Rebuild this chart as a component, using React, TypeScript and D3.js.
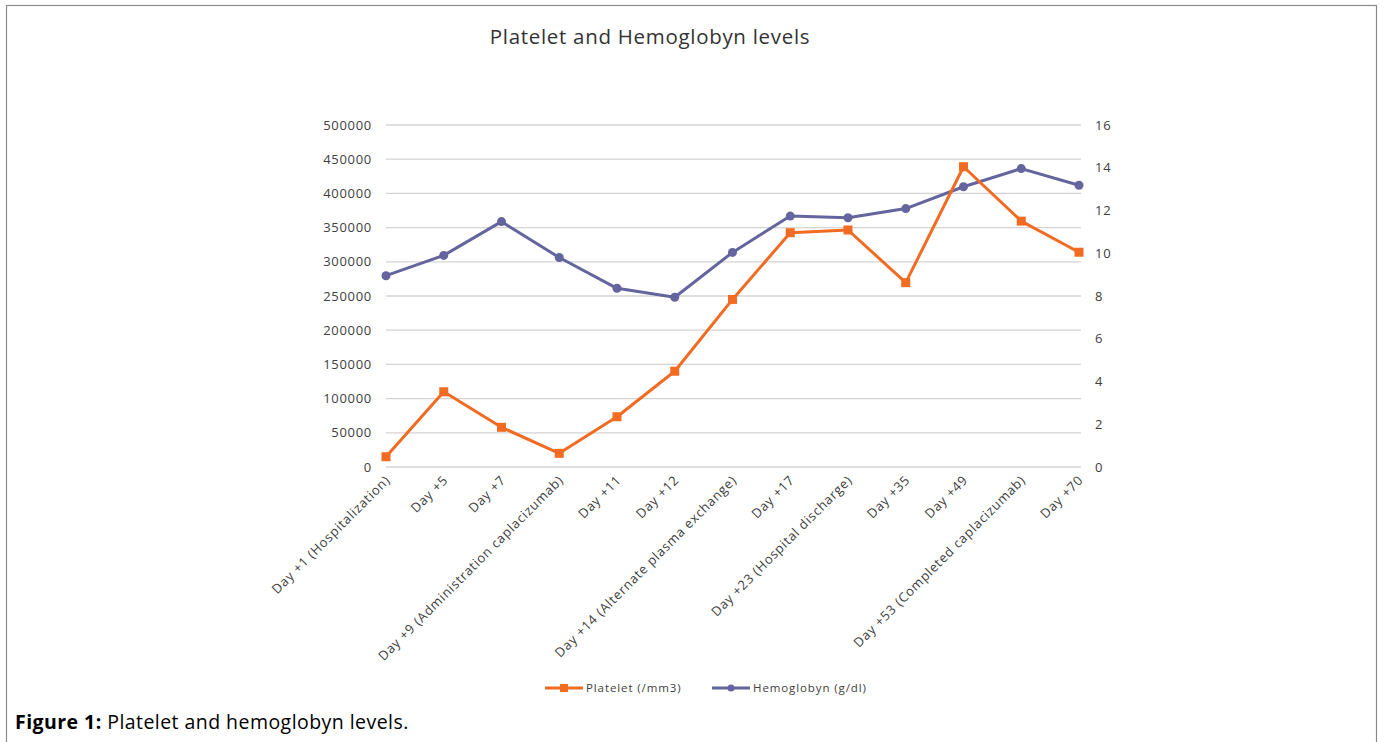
import React, { useRef, useEffect } from 'react';
import * as d3 from 'd3';

const categories = [
  'Day +1 (Hospitalization)',
  'Day +5',
  'Day +7',
  'Day +9 (Administration caplacizumab)',
  'Day +11',
  'Day +12',
  'Day +14 (Alternate plasma exchange)',
  'Day +17',
  'Day +23 (Hospital discharge)',
  'Day +35',
  'Day +49',
  'Day +53 (Completed caplacizumab)',
  'Day +70',
];
const platelet = [15000, 110000, 58000, 20000, 73500, 140000, 245000, 342500, 346500, 269500, 439000, 359500, 314000];
const hemoglobin = [8.95, 9.9, 11.48, 9.8, 8.36, 7.94, 10.04, 11.74, 11.66, 12.09, 13.11, 13.96, 13.18];
const leftTicks = [0, 50000, 100000, 150000, 200000, 250000, 300000, 350000, 400000, 450000, 500000];
const rightTicks = [0, 2, 4, 6, 8, 10, 12, 14, 16];

const ORANGE = '#F26B22';
const PURPLE = '#64649E';
const FONT = '"Open Sans", sans-serif';

function Chart() {
  const chartRef = useRef(null);

  useEffect(() => {
    const svg = d3.select(chartRef.current);
    svg.selectAll('*').remove();

    const x = d3.scalePoint().domain(categories).range([386, 1079]).padding(0);
    const yLeft = d3.scaleLinear().domain([0, 500000]).range([467, 125]);
    const yRight = d3.scaleLinear().domain([0, 16]).range([467, 125]);

    // frame
    svg.append('rect')
      .attr('x', 6.5).attr('y', 5.5).attr('width', 1370).attr('height', 760)
      .attr('fill', 'white').attr('stroke', '#8a8a8a').attr('stroke-width', 1.2);

    // title
    svg.append('text')
      .attr('x', 650).attr('y', 44).attr('text-anchor', 'middle')
      .attr('font-family', FONT).attr('font-size', 20.5).attr('letter-spacing', 0.7).attr('fill', '#333')
      .text('Platelet and Hemoglobyn levels');

    // gridlines
    svg.append('g')
      .selectAll('line').data(leftTicks).enter().append('line')
      .attr('x1', 386).attr('x2', 1081)
      .attr('y1', (d) => yLeft(d)).attr('y2', (d) => yLeft(d))
      .attr('stroke', '#d4d4d4').attr('stroke-width', 1.3);

    // left axis
    const leftAxis = svg.append('g')
      .attr('transform', 'translate(386,0)')
      .call(d3.axisLeft(yLeft).tickValues(leftTicks).tickSize(0).tickPadding(14).tickFormat(d3.format('d')));
    leftAxis.select('.domain').remove();
    leftAxis.selectAll('text').attr('font-family', FONT).attr('font-size', 13).attr('letter-spacing', 0.7).attr('fill', '#404040');

    // right axis
    const rightAxis = svg.append('g')
      .attr('transform', 'translate(1081,0)')
      .call(d3.axisRight(yRight).tickValues(rightTicks).tickSize(0).tickPadding(14));
    rightAxis.select('.domain').remove();
    rightAxis.selectAll('text').attr('font-family', FONT).attr('font-size', 13).attr('letter-spacing', 0.7).attr('fill', '#404040');

    // x labels
    svg.append('g').selectAll('text').data(categories).enter().append('text')
      .attr('transform', (d) => `translate(${x(d) + 5},${481}) rotate(-45)`)
      .attr('text-anchor', 'end')
      .attr('font-family', FONT).attr('font-size', 13).attr('letter-spacing', 0.75)
      .attr('fill', '#404040')
      .text((d) => d);

    // lines
    const hbLine = d3.line().x((d, i) => x(categories[i])).y((d) => yRight(d));
    const plLine = d3.line().x((d, i) => x(categories[i])).y((d) => yLeft(d));

    svg.append('path').datum(hemoglobin).attr('d', hbLine)
      .attr('fill', 'none').attr('stroke', PURPLE).attr('stroke-width', 3).attr('stroke-linejoin', 'round');
    svg.append('g').selectAll('circle').data(hemoglobin).enter().append('circle')
      .attr('cx', (d, i) => x(categories[i])).attr('cy', (d) => yRight(d)).attr('r', 4.5)
      .attr('fill', PURPLE);

    svg.append('path').datum(platelet).attr('d', plLine)
      .attr('fill', 'none').attr('stroke', ORANGE).attr('stroke-width', 3).attr('stroke-linejoin', 'round');
    svg.append('g').selectAll('rect').data(platelet).enter().append('rect')
      .attr('x', (d, i) => x(categories[i]) - 4.5).attr('y', (d) => yLeft(d) - 4.5)
      .attr('width', 9).attr('height', 9).attr('fill', ORANGE);

    // legend
    const legend = [
      { label: 'Platelet (/mm3)', color: ORANGE, shape: 'square', x: 545 },
      { label: 'Hemoglobyn (g/dl)', color: PURPLE, shape: 'circle', x: 712 },
    ];
    const lg = svg.append('g');
    legend.forEach((l) => {
      lg.append('line').attr('x1', l.x).attr('x2', l.x + 38).attr('y1', 688).attr('y2', 688)
        .attr('stroke', l.color).attr('stroke-width', 3);
      if (l.shape === 'square') {
        lg.append('rect').attr('x', l.x + 15).attr('y', 684).attr('width', 8).attr('height', 8).attr('fill', l.color);
      } else {
        lg.append('circle').attr('cx', l.x + 19).attr('cy', 688).attr('r', 3.5).attr('fill', l.color);
      }
      lg.append('text').attr('x', l.x + 41).attr('y', 692)
        .attr('font-family', FONT).attr('font-size', 11.5).attr('letter-spacing', 0.9)
        .attr('fill', '#404040').text(l.label);
    });

    // caption
    const cap = svg.append('text').attr('x', 15).attr('y', 729)
      .attr('font-family', FONT).attr('font-size', 19.5).attr('letter-spacing', 0.45).attr('fill', '#000');
    cap.append('tspan').attr('font-weight', 'bold').text('Figure 1:');
    cap.append('tspan').text(' Platelet and hemoglobyn levels.');
  }, []);

  return (
    <svg ref={chartRef} width={1385} height={742}
      style={{ position: 'absolute', left: 0, top: 0, background: 'white' }}></svg>
  );
}

export default function App() {
  return <Chart />;
}
